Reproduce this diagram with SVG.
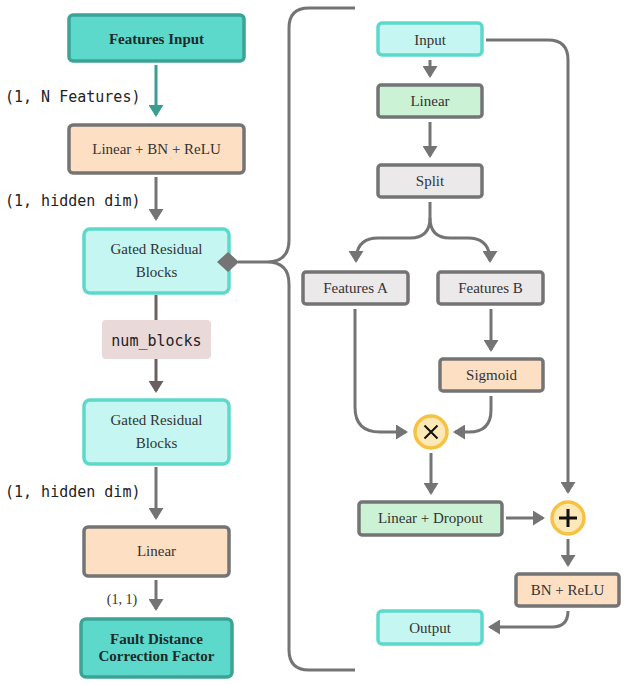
<svg xmlns="http://www.w3.org/2000/svg" width="627" height="684" viewBox="0 0 627 684">
<style>
.t{font-family:'Liberation Serif','Times New Roman','DejaVu Serif',serif;font-size:15px;fill:#333;text-anchor:middle;dominant-baseline:central}
.b{font-weight:bold;fill:#1f2a2a}
.m{font-family:'DejaVu Sans Mono',monospace;font-size:15px;fill:#222;dominant-baseline:central}
.teal{fill:#5cd9cb;stroke:#3ca397;stroke-width:3.5}
.lteal{fill:#c5f6f1;stroke:#5cd9cb;stroke-width:3.5}
.peach{fill:#fde0c4;stroke:#747474;stroke-width:3.5}
.green{fill:#ccf2d5;stroke:#747474;stroke-width:3.5}
.grey{fill:#ebe9ea;stroke:#747474;stroke-width:3.5}
.op{fill:#fde8b8;stroke:#f7c242;stroke-width:3.5}
.c{fill:none;stroke:#747474;stroke-width:3}
</style>
<defs>
<marker id="ag" viewBox="0 0 12 15" refX="10" refY="7.5" markerWidth="12" markerHeight="15" markerUnits="userSpaceOnUse" orient="auto"><path d="M0,0 L12,7.5 L0,15 z" fill="#747474"/></marker>
<marker id="at" viewBox="0 0 12 15" refX="10" refY="7.5" markerWidth="12" markerHeight="15" markerUnits="userSpaceOnUse" orient="auto"><path d="M0,0 L12,7.5 L0,15 z" fill="#3a9f92"/></marker>
<marker id="ab" viewBox="0 0 12 15" refX="10" refY="7.5" markerWidth="12" markerHeight="15" markerUnits="userSpaceOnUse" orient="auto"><path d="M0,0 L12,7.5 L0,15 z" fill="#6c5f5f"/></marker>
</defs>

<g id="connectors">
<path d="M156,65 V115" fill="none" stroke="#3a9f92" stroke-width="3" marker-end="url(#at)"/>
<path class="c" d="M156,177 V219" marker-end="url(#ag)"/>
<path d="M156,295 V320" fill="none" stroke="#6c6262" stroke-width="3"/>
<path d="M156,359 V391" fill="none" stroke="#6c5f5f" stroke-width="3" marker-end="url(#ab)"/>
<path class="c" d="M156,467 V518" marker-end="url(#ag)"/>
<path class="c" d="M156,580 V609" marker-end="url(#ag)"/>
<path class="c" d="M238,262 H267"/>
<path class="c" d="M355,8 H309 Q289,8 289,28 V240 Q289,262 267,262 Q289,262 289,284 V650 Q289,670 309,670 H355"/>
<path class="c" d="M430,60 V76" marker-end="url(#ag)"/>
<path class="c" d="M430,122 V156" marker-end="url(#ag)"/>
<path class="c" d="M430,202 V218 Q430,238 410,238 H378 Q356,238 356,261" marker-end="url(#ag)"/>
<path class="c" d="M430,218 Q430,238 450,238 H468 Q490,238 490,261" marker-end="url(#ag)"/>
<path class="c" d="M486,40 H548 Q568,40 568,60 V492" marker-end="url(#ag)"/>
<path class="c" d="M491,309 V350" marker-end="url(#ag)"/>
<path class="c" d="M355,309 V407 Q355,432 380,432 H406" marker-end="url(#ag)"/>
<path class="c" d="M491,396 V410 Q491,432 469,432 H455" marker-end="url(#ag)"/>
<path class="c" d="M431,453 V493" marker-end="url(#ag)"/>
<path class="c" d="M506,518 H543" marker-end="url(#ag)"/>
<path class="c" d="M568,539 V565" marker-end="url(#ag)"/>
<path class="c" d="M568,611 Q568,627 552,627 H490" marker-end="url(#ag)"/>
</g>

<g id="lbl-nfeat"><text class="m" x="5" y="97">(1, N Features)</text></g>
<g id="lbl-hid1"><text class="m" x="5" y="201">(1, hidden dim)</text></g>
<g id="lbl-hid2"><text class="m" x="5" y="492">(1, hidden dim)</text></g>
<g id="lbl-11"><text class="t" x="122" y="599" style="font-size:14px">(1, 1)</text></g>

<g id="features-input"><rect class="teal" x="69" y="15" width="175" height="46" rx="4"/><text class="t b" x="156.5" y="39">Features Input</text></g>
<g id="lin-bn-relu"><rect class="peach" x="69" y="125" width="175" height="48" rx="4"/><text class="t" x="156.5" y="149">Linear + BN + ReLU</text></g>
<g id="grb1"><rect class="lteal" x="84" y="229" width="145" height="64" rx="6"/><text class="t" x="156.5" y="249">Gated Residual</text><text class="t" x="156.5" y="272">Blocks</text>
<path d="M217,262 L228,252 L239,262 L228,272 z" fill="#747474"/></g>
<g id="num-blocks"><rect x="102" y="320" width="109" height="39" rx="4" fill="#ead9d9"/><text class="m" x="156.5" y="341" text-anchor="middle">num_blocks</text></g>
<g id="grb2"><rect class="lteal" x="84" y="400" width="145" height="64" rx="6"/><text class="t" x="156.5" y="420">Gated Residual</text><text class="t" x="156.5" y="443">Blocks</text></g>
<g id="linear-out"><rect class="peach" x="84" y="527" width="145" height="49" rx="4"/><text class="t" x="156.5" y="551">Linear</text></g>
<g id="fault"><rect class="teal" x="81" y="619" width="151" height="58" rx="5"/><text class="t b" x="156.5" y="639">Fault Distance</text><text class="t b" x="156.5" y="656">Correction Factor</text></g>

<g id="input"><rect class="lteal" x="378" y="23" width="104" height="32" rx="4"/><text class="t" x="430" y="40">Input</text></g>
<g id="linear"><rect class="green" x="378" y="85" width="104" height="32" rx="3"/><text class="t" x="430" y="101">Linear</text></g>
<g id="split"><rect class="grey" x="378" y="165" width="104" height="32" rx="3"/><text class="t" x="430" y="181">Split</text></g>
<g id="feat-a"><rect class="grey" x="303" y="272" width="105" height="32" rx="3"/><text class="t" x="355.5" y="288">Features A</text></g>
<g id="feat-b"><rect class="grey" x="438" y="272" width="105" height="32" rx="3"/><text class="t" x="490.5" y="288">Features B</text></g>
<g id="sigmoid"><rect class="peach" x="440" y="359" width="103" height="32" rx="3"/><text class="t" x="491.5" y="375">Sigmoid</text></g>
<g id="mul"><circle class="op" cx="431" cy="432" r="16"/><path d="M424.5,425.5 L437.5,438.5 M437.5,425.5 L424.5,438.5" stroke="#111" stroke-width="2"/></g>
<g id="lin-drop"><rect class="green" x="359" y="502" width="143" height="33" rx="3"/><text class="t" x="430.5" y="518">Linear + Dropout</text></g>
<g id="add"><circle class="op" cx="568" cy="518" r="16"/><path d="M568,509 V527 M559,518 H577" stroke="#111" stroke-width="3"/></g>
<g id="bn-relu"><rect class="peach" x="516" y="574" width="103" height="32" rx="3"/><text class="t" x="567.5" y="590">BN + ReLU</text></g>
<g id="output"><rect class="lteal" x="378" y="611" width="104" height="33" rx="4"/><text class="t" x="430" y="628">Output</text></g>
</svg>
